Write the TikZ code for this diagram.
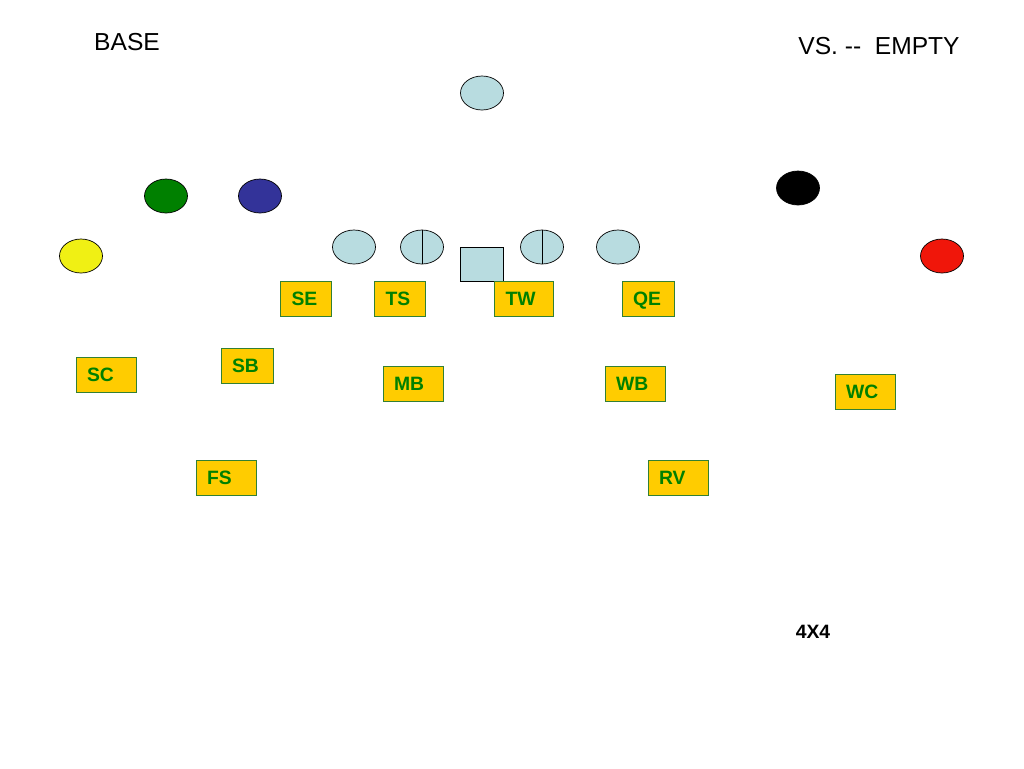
\documentclass[tikz,border=0pt]{standalone}
\usepackage{fontspec}
\setmainfont{Liberation Sans}
\usetikzlibrary{shapes.geometric}
\definecolor{lineblue}{RGB}{184,220,224}
\definecolor{posgold}{RGB}{255,204,0}
\definecolor{posgreen}{RGB}{0,128,0}
\definecolor{ltblue}{RGB}{51,51,153}
\definecolor{ltyellow}{RGB}{240,240,20}
\definecolor{ltred}{RGB}{240,22,10}
\tikzset{
  player/.style={ellipse, draw=black, thin, minimum width=0.86cm, minimum height=0.68cm, inner sep=0pt},
  pos/.style={draw=posgreen!60!gray, thin, fill=posgold, minimum height=0.7cm, inner xsep=0.22cm, inner ysep=0pt,
    text width=#1, align=left, text height=1.6ex, text depth=0.25ex,
    font=\fontsize{11}{13}\selectfont\bfseries, text=posgreen},
  pos/.default=0.76cm
}
\begin{document}
\begin{tikzpicture}[x=0.02cm, y=-0.02cm]
	\useasboundingbox (0,0) rectangle (1024,768);
	% titles
	\node[font=\fontsize{14}{16}\selectfont] (base) at (127,42) {BASE};
	\node[font=\fontsize{14}{16}\selectfont] (vs) at (879,46) {VS. -{}-\ \ EMPTY};
	\node[font=\fontsize{11}{13}\selectfont\bfseries] (fourx) at (813,632) {4X4};
	% offense
	\node[player, fill=lineblue] (qb) at (482,93) {};
	\node[player, fill=posgreen] (lgreen) at (166,196) {};
	\node[player, fill=ltblue] (lblue) at (260,196) {};
	\node[player, fill=ltyellow] (lyellow) at (81,256) {};
	\node[player, fill=black] (rblack) at (798,188) {};
	\node[player, fill=ltred] (rred) at (942,256) {};
	\node[player, fill=lineblue] (ltackle) at (354,247) {};
	\node[player, fill=lineblue] (lguard) at (422,247) {};
	\node[player, fill=lineblue] (rguard) at (542,247) {};
	\node[player, fill=lineblue] (rtackle) at (618,247) {};
	\draw (lguard.north) -- (lguard.south);
	\draw (rguard.north) -- (rguard.south);
	\node[draw=black, thin, fill=lineblue, minimum width=0.86cm, minimum height=0.68cm, inner sep=0pt] (center) at (481.5,264) {};
	% defense
	\node[pos=0.58cm] (se) at (306,299) {SE};
	\node[pos=0.58cm] (ts) at (400,299) {TS};
	\node[pos=0.74cm] (tw) at (524,299) {TW};
	\node[pos=0.6cm] (qe) at (648,299) {QE};
	\node[pos] (sc) at (106,375) {SC};
	\node[pos=0.6cm] (sb) at (247,366) {SB};
	\node[pos] (mb) at (413,384) {MB};
	\node[pos] (wb) at (635,384) {WB};
	\node[pos] (wc) at (865,392) {WC};
	\node[pos] (fs) at (226,478) {FS};
	\node[pos] (rv) at (678,478) {RV};
\end{tikzpicture}
\end{document}
